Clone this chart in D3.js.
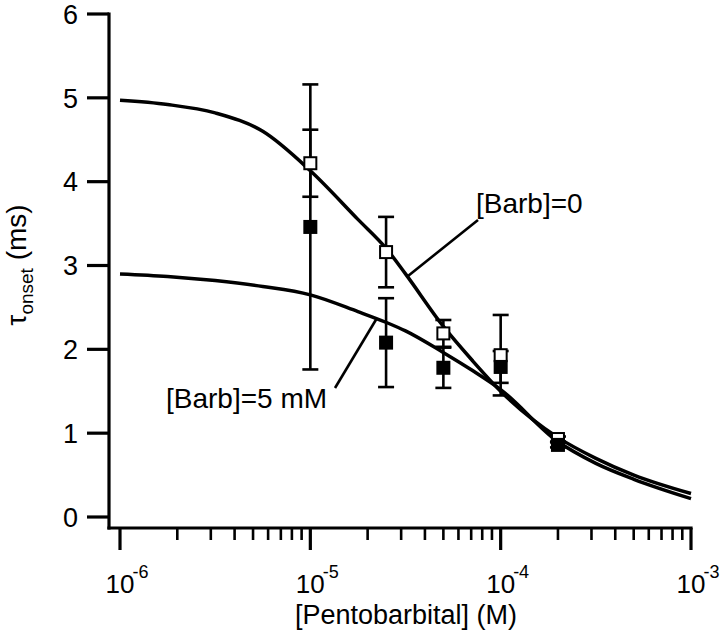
<!DOCTYPE html>
<html><head><meta charset="utf-8">
<script src="https://cdn.jsdelivr.net/npm/d3@7"></script>
<style>body{margin:0;background:#fff}svg{display:block}text{font-family:"Liberation Sans",Arial,Helvetica,sans-serif;fill:#000}</style>
</head><body><svg id="c" width="720" height="631"></svg>
<script>
// ---- data ----
const concentrations = [1e-5, 2.5e-5, 5e-5, 1e-4, 2e-4];
const barb0Mean = [4.22, 3.16, 2.19, 1.93, 0.93];
const barb0Err  = [0.40, 0.42, 0.16, 0.48, 0.03];
const barb5Mean = [3.46, 2.08, 1.78, 1.79, 0.86];
const barb5Err  = [1.70, 0.53, 0.24, 0.19, 0.03];
// fitted curves (x = log10 concentration)
const fitLogX   = [-6, -5.75, -5.5, -5.25, -5, -4.75, -4.6, -4.5, -4.3, -4.15, -4, -3.7, -3.5, -3.3, -3];
const fitBarb0  = [4.97, 4.92, 4.82, 4.60, 4.13, 3.55, 3.20, 2.90, 2.27, 1.87, 1.50, 0.95, 0.70, 0.50, 0.28];
const fitBarb5  = [2.90, 2.87, 2.82, 2.75, 2.65, 2.45, 2.32, 2.22, 1.96, 1.75, 1.52, 0.90, 0.64, 0.45, 0.22];
const yTicks = [0, 1, 2, 3, 4, 5, 6];
const xDecades = [-6, -5, -4, -3];

const svg = d3.select("#c");
const x = d3.scaleLog().domain([1e-6, 1e-3]).range([120, 691]);
const y = d3.scaleLinear().domain([0, 6]).range([517, 14]);
const axisY = 528, axisX = 109;

const g = svg.append("g");
g.append("line").attr("x1", axisX).attr("x2", axisX).attr("y1", y(6) - 1.6).attr("y2", axisY + 1.6)
  .attr("stroke", "#000").attr("stroke-width", 3.2);
g.append("line").attr("x1", axisX - 1.6).attr("x2", x(1e-3) + 1.6).attr("y1", axisY).attr("y2", axisY)
  .attr("stroke", "#000").attr("stroke-width", 3.2);

// y ticks
yTicks.forEach(t => {
  g.append("line").attr("x1", axisX - 22).attr("x2", axisX).attr("y1", y(t)).attr("y2", y(t))
    .attr("stroke", "#000").attr("stroke-width", 3.2);
  g.append("text").attr("x", 78).attr("y", y(t)).attr("dy", "0.36em")
    .attr("text-anchor", "end").attr("font-size", 27).text(t);
});

// x ticks (log)
const minor = [];
for (let d = -6; d < -3; d++) for (let m = 2; m <= 9; m++) minor.push(m * Math.pow(10, d));
minor.forEach(v => g.append("line").attr("x1", x(v)).attr("x2", x(v)).attr("y1", axisY).attr("y2", axisY + 12)
  .attr("stroke", "#000").attr("stroke-width", 2.6));
xDecades.forEach(d => {
  const v = Math.pow(10, d), px = x(v);
  g.append("line").attr("x1", px).attr("x2", px).attr("y1", axisY).attr("y2", axisY + 22)
    .attr("stroke", "#000").attr("stroke-width", 3.2);
  const base = g.append("text").attr("x", px).attr("y", 593).attr("text-anchor", "middle")
    .attr("font-size", 26).text("10");
  const w = base.node().getComputedTextLength();
  g.append("text").attr("x", px + w / 2 - 2).attr("y", 578).attr("font-size", 18).text(String(d));
});

// axis titles
g.append("text").attr("x", 406).attr("y", 624).attr("text-anchor", "middle").attr("font-size", 27)
  .text("[Pentobarbital] (M)");
const yt = g.append("text").attr("transform", "translate(26,265) rotate(-90)").attr("text-anchor", "middle")
  .attr("font-size", 28);
yt.append("tspan").text("\u03c4");
yt.append("tspan").attr("font-size", 19).attr("dy", 7).text("onset");
yt.append("tspan").attr("dy", -7).text(" (ms)");

// curves
const line = d3.line().x(d => x(Math.pow(10, d[0]))).y(d => y(d[1])).curve(d3.curveMonotoneX);
[fitBarb0, fitBarb5].forEach(s => {
  svg.append("path").attr("d", line(fitLogX.map((lx, i) => [lx, s[i]])))
    .attr("fill", "none").attr("stroke", "#000").attr("stroke-width", 3.5);
});

// leader lines + labels
svg.append("line").attr("x1", 478).attr("y1", 220).attr("x2", 408).attr("y2", 276)
  .attr("stroke", "#000").attr("stroke-width", 2.6);
svg.append("text").attr("x", 476).attr("y", 213).attr("font-size", 28).text("[Barb]=0");
svg.append("line").attr("x1", 335).attr("y1", 388).attr("x2", 377).attr("y2", 318)
  .attr("stroke", "#000").attr("stroke-width", 2.6);
svg.append("text").attr("x", 166).attr("y", 408).attr("font-size", 28).text("[Barb]=5 mM");

// error bars
function errBars(means, errs) {
  concentrations.forEach((c, i) => {
    const px = x(c), lo = y(means[i] - errs[i]), hi = y(means[i] + errs[i]);
    svg.append("line").attr("x1", px).attr("x2", px).attr("y1", lo).attr("y2", hi)
      .attr("stroke", "#000").attr("stroke-width", 2.6);
    [lo, hi].forEach(yy => svg.append("line").attr("x1", px - 8).attr("x2", px + 8)
      .attr("y1", yy).attr("y2", yy).attr("stroke", "#000").attr("stroke-width", 2.6));
  });
}
errBars(barb0Mean, barb0Err);
errBars(barb5Mean, barb5Err);

// markers: open (Barb=0) then filled (Barb=5 mM)
const S = 14;
concentrations.forEach((c, i) => {
  svg.append("rect").attr("x", x(c) - (S - 2) / 2).attr("y", y(barb0Mean[i]) - (S - 2) / 2)
    .attr("width", S - 2).attr("height", S - 2).attr("fill", "#fff").attr("stroke", "#000").attr("stroke-width", 2);
});
concentrations.forEach((c, i) => {
  svg.append("rect").attr("x", x(c) - S / 2).attr("y", y(barb5Mean[i]) - S / 2).attr("width", S).attr("height", S)
    .attr("fill", "#000");
});
</script></body></html>
